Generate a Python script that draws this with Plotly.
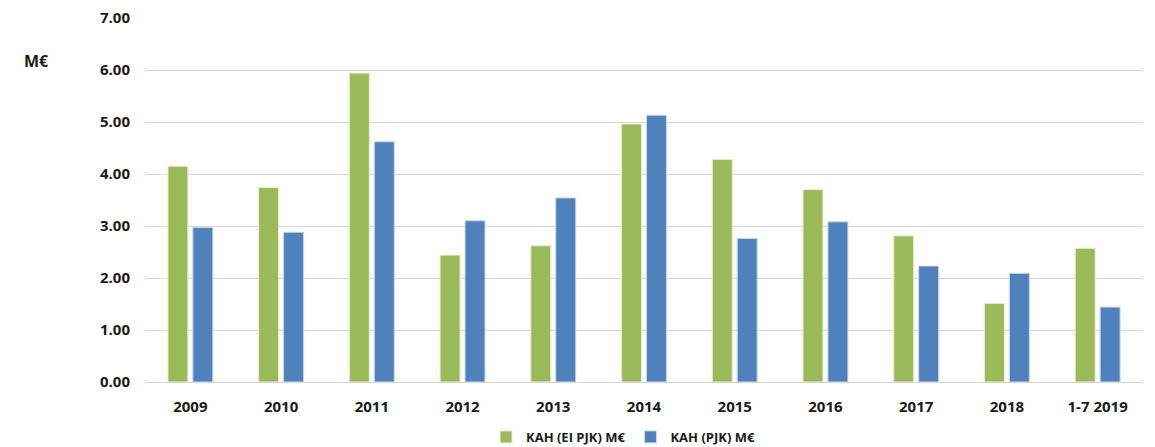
import plotly.graph_objects as go

categories = ["2009", "2010", "2011", "2012", "2013", "2014", "2015", "2016", "2017", "2018", "1-7 2019"]
ei_pjk = [4.15, 3.74, 5.94, 2.44, 2.62, 4.96, 4.28, 3.70, 2.81, 1.51, 2.57]
pjk = [2.97, 2.88, 4.62, 3.10, 3.54, 5.13, 2.76, 3.08, 2.23, 2.09, 1.44]
series_names = ["KAH (EI PJK) M€", "KAH (PJK) M€"]
y_ticks = [0, 1, 2, 3, 4, 5, 6, 7]

FONT = "'Open Sans', 'Noto Sans', Arial, sans-serif"

fig = go.Figure()
fig.add_trace(go.Bar(x=categories, y=ei_pjk, name=series_names[0],
                     marker=dict(color="#9BBB59", line=dict(color="#E6EFD6", width=1))))
fig.add_trace(go.Bar(x=categories, y=pjk, name=series_names[1],
                     marker=dict(color="#4F81BD", line=dict(color="#C9D7EA", width=1))))

fig.update_layout(
    width=1155, height=447,
    margin=dict(l=145, r=12, t=18, b=65, autoexpand=False),
    paper_bgcolor="white", plot_bgcolor="white",
    barmode="group", bargap=0.45, bargroupgap=0.2,
    font=dict(family=FONT, size=14, color="#1a1a1a"),
    showlegend=True,
    legend=dict(orientation="h", x=0.479, xanchor="center", y=-0.151, yanchor="middle",
                font=dict(family=FONT, size=13, color="#1a1a1a", weight="bold"),
                itemwidth=30, traceorder="normal"),
    annotations=[dict(text="<b>M€</b>", x=-0.123, y=0.918, xref="paper", yref="paper",
                      showarrow=False, font=dict(family=FONT, size=16, color="#1a1a1a"))],
)
fig.update_xaxes(showgrid=False, showline=False, ticks="", ticklabelstandoff=14,
                 tickfont=dict(family=FONT, size=15, color="#1a1a1a", weight="bold"))
fig.update_yaxes(range=[0, 7], tickvals=y_ticks, tickformat=".2f",
                 showgrid=True, gridcolor="#D9D9D9", gridwidth=1,
                 zeroline=True, zerolinecolor="#D9D9D9", zerolinewidth=1,
                 showline=False, ticks="", ticklabelstandoff=14,
                 tickfont=dict(family=FONT, size=15, color="#1a1a1a", weight="bold"))

fig.write_html("out.html", config={"displayModeBar": False},
               post_script="document.body.style.margin='0';document.body.style.overflow='hidden';")
